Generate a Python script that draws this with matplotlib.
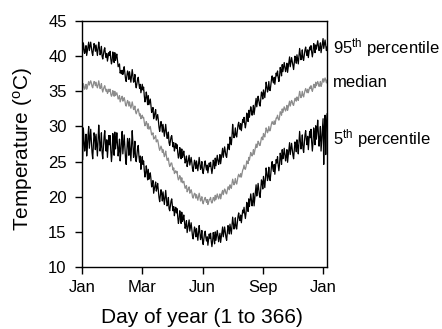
import numpy as np
import matplotlib
matplotlib.use("Agg")
import matplotlib.pyplot as plt

plt.rcParams['font.family'] = ['Liberation Sans', 'DejaVu Sans']
plt.rcParams['mathtext.fontset'] = 'custom'
plt.rcParams['mathtext.rm'] = 'Liberation Sans'
plt.rcParams['mathtext.it'] = 'Liberation Sans'

# Daily temperature percentiles (deg C), day 1 .. 366
p95 = [
    40.5, 41.9, 41.2, 40.4, 40.8, 41.5, 40.1, 40.7, 41.4, 42.0,
    40.8, 41.4, 42.0, 41.3, 40.5, 40.1, 41.0, 41.8, 41.5, 40.7,
    41.6, 40.8, 40.1, 41.1, 42.0, 41.2, 40.2, 40.5, 41.4, 40.0,
    39.6, 40.2, 40.9, 41.2, 40.3, 39.8, 40.4, 39.3, 39.9, 40.5,
    40.1, 40.7, 39.6, 38.9, 39.4, 40.6, 40.0, 39.1, 40.5, 39.4,
    39.9, 40.3, 39.4, 38.5, 38.7, 38.9, 37.6, 37.9, 37.5, 38.0,
    37.4, 37.9, 38.5, 37.7, 36.8, 36.4, 37.2, 37.9, 37.6, 36.7,
    37.8, 37.1, 36.3, 37.2, 38.1, 37.3, 36.3, 36.5, 37.4, 36.0,
    35.5, 36.1, 36.7, 37.0, 36.1, 35.4, 36.0, 34.8, 35.4, 36.0,
    35.2, 35.6, 34.4, 33.5, 33.9, 34.9, 34.2, 33.1, 34.4, 33.1,
    33.5, 33.9, 33.0, 32.0, 32.2, 32.7, 31.1, 31.5, 32.0, 32.4,
    30.9, 31.3, 31.7, 30.9, 29.9, 29.3, 30.0, 30.7, 30.2, 29.2,
    30.3, 29.4, 28.6, 29.4, 30.3, 29.3, 28.3, 28.4, 29.2, 27.7,
    27.3, 27.9, 28.5, 28.7, 27.8, 27.1, 27.7, 26.5, 27.0, 27.6,
    26.9, 27.4, 26.3, 25.5, 25.8, 27.0, 26.4, 25.4, 26.8, 25.6,
    26.0, 26.5, 25.7, 24.8, 25.1, 25.8, 24.3, 24.8, 25.4, 25.9,
    24.5, 25.1, 25.6, 24.9, 24.0, 23.6, 24.4, 25.2, 24.8, 24.0,
    25.1, 24.4, 23.7, 24.6, 25.6, 24.8, 23.9, 24.2, 25.0, 23.7,
    23.3, 24.0, 24.7, 25.1, 24.3, 23.8, 24.5, 23.4, 24.1, 24.8,
    24.3, 24.9, 24.0, 23.3, 24.0, 25.2, 24.8, 24.0, 25.5, 24.4,
    25.2, 25.9, 25.3, 24.6, 25.1, 26.0, 24.7, 25.4, 26.2, 26.9,
    25.6, 26.3, 27.1, 26.5, 25.8, 25.6, 26.6, 27.5, 27.4, 26.7,
    28.5, 28.0, 27.4, 28.6, 30.3, 29.1, 28.4, 28.8, 29.8, 28.7,
    28.5, 29.3, 30.2, 30.6, 29.9, 29.6, 30.4, 29.4, 30.2, 31.0,
    30.6, 31.3, 30.4, 29.8, 30.5, 31.9, 31.5, 30.7, 32.3, 31.3,
    32.1, 32.8, 32.3, 31.6, 32.1, 33.0, 31.7, 32.5, 33.3, 34.0,
    32.8, 33.6, 34.3, 33.8, 33.1, 32.9, 33.9, 34.9, 34.7, 33.9,
    35.2, 34.6, 34.1, 35.2, 36.3, 35.7, 34.9, 35.3, 36.4, 35.2,
    35.1, 35.9, 36.7, 37.2, 36.5, 36.2, 37.0, 36.0, 36.8, 37.6,
    37.2, 37.9, 37.0, 36.4, 37.1, 38.4, 38.0, 37.2, 38.8, 37.8,
    38.4, 39.1, 38.5, 37.8, 38.3, 39.0, 37.7, 38.4, 39.2, 39.9,
    38.5, 39.2, 39.8, 39.2, 38.5, 38.1, 39.1, 40.0, 39.8, 39.0,
    40.2, 39.5, 38.9, 40.0, 41.1, 40.3, 39.5, 39.9, 40.9, 39.6,
    39.4, 40.1, 40.9, 41.3, 40.6, 40.1, 40.9, 39.8, 40.6, 41.3,
    40.9, 41.5, 40.6, 39.9, 40.6, 41.8, 41.4, 40.5, 41.6, 41.0,
    41.6, 42.2, 41.5, 40.8, 41.2, 41.9, 40.5, 41.2, 41.9, 42.5,
    41.1, 41.7, 42.3, 41.6, 40.8, 41.3,
]

median = [
    35.2, 36.1, 35.7, 35.3, 35.6, 36.0, 35.3, 35.6, 36.0, 36.4,
    35.9, 36.2, 36.5, 36.2, 35.7, 35.5, 36.0, 36.4, 36.3, 35.8,
    36.3, 35.8, 35.5, 35.9, 36.5, 35.9, 35.4, 35.6, 36.1, 35.3,
    34.9, 35.3, 35.6, 35.8, 35.3, 35.0, 35.3, 34.7, 34.9, 35.3,
    35.0, 35.3, 34.6, 34.3, 34.5, 35.1, 34.8, 34.3, 35.0, 34.4,
    34.6, 34.8, 34.4, 33.9, 34.0, 34.4, 33.5, 33.8, 34.1, 34.3,
    33.6, 33.8, 34.1, 33.7, 33.1, 32.9, 33.3, 33.7, 33.5, 32.9,
    33.5, 33.0, 32.6, 33.0, 33.5, 33.0, 32.4, 32.5, 32.9, 32.1,
    31.8, 32.1, 32.4, 32.5, 32.0, 31.5, 31.8, 31.1, 31.3, 31.6,
    31.2, 31.3, 30.6, 30.1, 30.3, 30.7, 30.4, 29.7, 30.4, 29.6,
    29.8, 30.0, 29.4, 28.8, 28.9, 29.1, 28.2, 28.3, 28.5, 28.7,
    27.8, 28.0, 28.1, 27.6, 27.0, 26.6, 26.9, 27.2, 26.9, 26.3,
    26.7, 26.2, 25.7, 26.0, 26.5, 25.8, 25.2, 25.2, 25.5, 24.7,
    24.3, 24.5, 24.8, 24.8, 24.3, 23.8, 24.1, 23.3, 23.5, 23.7,
    23.4, 23.6, 22.8, 22.4, 22.6, 23.0, 22.7, 22.1, 22.7, 22.0,
    22.0, 22.2, 21.7, 21.2, 21.3, 21.6, 20.7, 20.9, 21.2, 21.4,
    20.5, 20.8, 21.0, 20.6, 20.0, 19.8, 20.2, 20.5, 20.4, 19.8,
    20.3, 19.9, 19.5, 20.0, 20.5, 20.0, 19.4, 19.6, 20.0, 19.3,
    19.0, 19.4, 19.7, 19.9, 19.5, 19.2, 19.6, 18.9, 19.2, 19.6,
    19.6, 19.9, 19.3, 19.1, 19.4, 19.9, 19.8, 19.4, 20.2, 19.6,
    20.0, 20.4, 20.0, 19.7, 20.0, 20.4, 19.7, 20.1, 20.6, 20.9,
    20.3, 20.7, 21.1, 20.9, 20.5, 20.4, 20.9, 21.4, 21.4, 21.0,
    21.7, 21.4, 21.2, 21.8, 22.5, 22.1, 21.7, 22.0, 22.6, 22.0,
    21.8, 22.3, 22.9, 23.2, 22.9, 22.8, 23.3, 22.8, 23.3, 23.8,
    24.0, 24.5, 24.0, 23.9, 24.3, 25.1, 25.0, 24.7, 25.6, 25.2,
    25.8, 26.3, 26.0, 25.8, 26.1, 26.7, 26.0, 26.5, 27.0, 27.5,
    27.0, 27.4, 27.9, 27.7, 27.3, 27.3, 27.9, 28.4, 28.5, 28.1,
    29.0, 28.7, 28.5, 29.1, 29.8, 29.5, 29.1, 29.4, 30.0, 29.4,
    29.4, 29.9, 30.4, 30.7, 30.4, 30.3, 30.8, 30.3, 30.7, 31.2,
    31.2, 31.6, 31.1, 30.9, 31.3, 32.1, 32.0, 31.6, 32.5, 32.0,
    32.4, 32.8, 32.5, 32.2, 32.5, 33.0, 32.3, 32.7, 33.2, 33.6,
    32.9, 33.3, 33.7, 33.5, 33.1, 33.0, 33.5, 34.0, 34.0, 33.6,
    34.2, 33.9, 33.7, 34.3, 35.0, 34.5, 34.1, 34.4, 35.0, 34.4,
    34.2, 34.7, 35.1, 35.4, 35.1, 34.8, 35.3, 34.8, 35.2, 35.6,
    35.4, 35.8, 35.3, 35.0, 35.4, 36.0, 35.9, 35.5, 36.3, 35.8,
    36.1, 36.4, 36.1, 35.7, 35.9, 36.4, 35.7, 36.0, 36.5, 36.8,
    36.3, 36.6, 36.9, 36.6, 36.2, 36.6,
]

p05 = [
    25.3, 29.8, 28.2, 26.5, 27.4, 28.9, 25.8, 27.1, 28.7, 30.0,
    26.9, 28.2, 29.6, 28.0, 26.3, 25.4, 27.4, 29.1, 28.5, 26.7,
    28.9, 27.4, 25.8, 28.0, 30.2, 28.5, 26.5, 27.2, 29.1, 26.3,
    25.4, 27.0, 28.5, 29.4, 27.6, 26.5, 28.1, 25.6, 27.2, 28.7,
    27.4, 28.7, 26.5, 25.0, 26.3, 29.0, 27.9, 25.9, 29.2, 26.8,
    27.8, 29.1, 27.5, 25.8, 26.7, 28.2, 25.1, 26.4, 28.0, 29.3,
    26.1, 27.4, 28.8, 27.2, 25.5, 24.6, 26.6, 28.3, 27.7, 25.9,
    28.3, 26.8, 25.1, 27.3, 29.4, 27.7, 25.6, 26.3, 27.9, 25.3,
    25.0, 25.9, 26.9, 27.3, 25.8, 24.9, 25.8, 23.9, 24.9, 25.7,
    24.6, 25.1, 23.8, 22.8, 23.3, 24.4, 23.6, 22.4, 23.9, 22.5,
    22.9, 23.4, 22.5, 21.4, 21.7, 22.3, 20.5, 21.1, 21.6, 22.1,
    20.8, 21.3, 21.9, 20.9, 19.9, 19.3, 20.2, 21.0, 20.4, 19.4,
    20.7, 19.8, 18.9, 19.9, 20.9, 19.8, 18.7, 18.9, 19.9, 18.3,
    18.0, 18.7, 19.4, 19.7, 18.7, 18.0, 18.6, 17.3, 18.1, 18.5,
    17.7, 18.3, 17.1, 16.2, 16.8, 18.0, 17.3, 16.2, 17.8, 16.5,
    16.8, 17.4, 16.5, 15.5, 15.9, 16.6, 14.9, 15.5, 16.1, 16.7,
    15.1, 15.7, 16.3, 15.4, 14.4, 14.0, 14.9, 15.7, 15.3, 14.3,
    15.5, 14.7, 13.8, 14.9, 15.9, 15.0, 13.9, 14.3, 15.2, 13.7,
    13.2, 14.0, 14.8, 15.1, 14.2, 13.7, 14.3, 13.1, 13.9, 14.7,
    14.1, 14.8, 13.7, 12.9, 13.6, 14.9, 14.3, 13.3, 15.0, 13.8,
    14.5, 15.2, 14.5, 13.6, 14.2, 14.8, 13.5, 14.2, 14.9, 15.7,
    14.3, 15.0, 15.7, 15.0, 14.2, 13.8, 14.9, 15.9, 15.6, 14.7,
    16.1, 15.4, 14.7, 15.9, 17.1, 16.3, 15.4, 15.9, 17.0, 15.6,
    15.4, 16.3, 17.2, 17.7, 16.9, 16.6, 17.4, 16.3, 17.2, 18.1,
    17.7, 18.5, 17.6, 16.9, 17.7, 19.2, 18.7, 17.9, 19.7, 18.6,
    19.4, 20.4, 19.5, 18.7, 19.4, 20.5, 18.7, 19.7, 20.7, 21.7,
    20.1, 20.9, 21.9, 21.1, 20.2, 19.9, 21.2, 22.4, 22.1, 21.1,
    22.9, 22.1, 21.3, 22.7, 24.1, 23.3, 22.3, 22.9, 24.2, 22.5,
    22.3, 23.4, 24.4, 25.0, 24.0, 23.6, 24.6, 23.2, 24.3, 25.3,
    24.8, 25.7, 24.5, 23.7, 24.6, 26.2, 25.7, 24.6, 26.7, 25.4,
    26.0, 26.9, 26.0, 25.1, 25.8, 26.7, 24.9, 25.8, 26.8, 27.7,
    26.0, 26.8, 27.6, 26.8, 25.9, 25.4, 26.7, 27.8, 27.5, 26.4,
    28.1, 27.2, 26.1, 27.7, 29.3, 28.1, 26.8, 27.4, 28.8, 26.9,
    26.3, 27.5, 28.8, 29.4, 28.2, 27.4, 28.6, 26.7, 28.0, 29.3,
    28.4, 29.6, 27.8, 26.5, 27.7, 29.8, 29.0, 27.4, 30.1, 28.2,
    29.4, 30.9, 29.1, 27.2, 28.3, 30.0, 26.5, 28.0, 29.6, 31.1,
    24.6, 29.9, 31.6, 26.0, 30.4, 31.8,
]

days = np.arange(1, len(p95) + 1)

tick_days = [0, 90, 180, 270, 360]
tick_labels = ["Jan", "Mar", "Jun", "Sep", "Jan"]
y_ticks = [10, 15, 20, 25, 30, 35, 40, 45]

fig = plt.figure(figsize=(4.42, 3.29), dpi=100)
ax = fig.add_axes([0.1855, 0.1884, 0.5545, 0.7476])

ax.plot(days, p95, color="black", lw=0.9)
ax.plot(days, median, color="#8c8c8c", lw=0.9)
ax.plot(days, p05, color="black", lw=0.9)

ax.set_xlim(0, 366)
ax.set_ylim(10, 45)
ax.set_xticks(tick_days)
ax.set_xticklabels(tick_labels)
ax.set_yticks(y_ticks)
ax.tick_params(direction="out", length=5, width=1, labelsize=12)
ax.tick_params(axis="x", pad=4)
ax.tick_params(axis="y", pad=6)
for s in ax.spines.values():
    s.set_linewidth(1.0)

ax.set_xlabel("Day of year (1 to 366)", fontsize=15)
ax.set_ylabel("Temperature ($^{\\mathrm{o}}$C)", fontsize=15)
ax.xaxis.set_label_coords(0.49, -0.165)
ax.yaxis.set_label_coords(-0.19, 0.48)

lbl_kw = dict(transform=ax.get_yaxis_transform(), fontsize=12, va="center",
              ha="left", clip_on=False)
ax.text(1.024, 41.2, "95$^{\\mathrm{th}}$ percentile", **lbl_kw)
ax.text(1.024, 36.2, "median", **lbl_kw)
ax.text(1.024, 28.3, "5$^{\\mathrm{th}}$ percentile", **lbl_kw)

fig.savefig("out.png", dpi=100)
